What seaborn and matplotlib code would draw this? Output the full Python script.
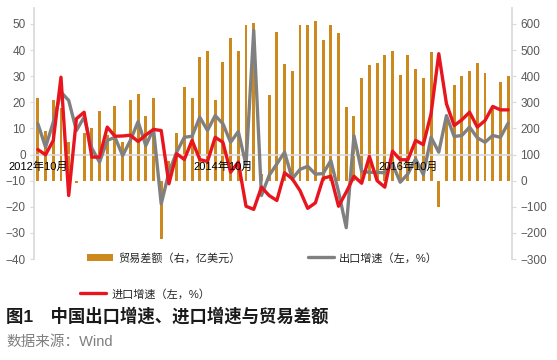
import pandas as pd
import matplotlib
matplotlib.use("Agg")
import matplotlib.pyplot as plt
from matplotlib.patches import Patch
from matplotlib.lines import Line2D
import seaborn as sns

# ==========================================
# Data: monthly, 2012-10 to 2017-11
# ==========================================
months = pd.period_range("2012-10", "2017-11", freq="M")

# 出口增速 (%, left axis)
exports = [11.8, 2.8, 12.4, 23.9, 20.7, 9.2, 14.3, 2.4, -2.9, 5.4, 6.6, -0.4,
           5.4, 12.6, 3.4, 9.8, -18.9, -6.8, 0.9, 6.6, 7.0, 14.3, 9.2, 14.9,
           11.8, 4.7, 8.8, -4.0, 47.5, -15.7, -8.0, -3.6, 0.9, -9.3, -5.7, -4.5,
           -7.5, -7.3, -2.3, -14.2, -28.0, 7.2, -6.5, -6.8, -6.8, -7.0, -3.6, -10.6,
           -7.4, -1.7, -7.7, 6.6, 0.9, 14.9, 6.9, 7.3, 10.5, 6.4, 4.7, 7.3,
           6.6, 12.0]

# 进口增速 (%, left axis)
imports = [1.9, -0.1, 5.4, 29.6, -15.7, 13.7, 16.2, -1.0, -1.0, 10.5, 7.0, 7.1,
           7.4, 5.0, 7.5, 9.6, 9.2, -11.2, 0.3, -1.9, 5.4, -1.9, -2.7, 6.6,
           4.7, -6.8, -2.9, -19.8, -21.0, -12.5, -15.7, -17.6, -7.0, -9.3, -13.8, -20.6,
           -18.5, -9.1, -8.3, -19.8, -14.4, -8.3, -11.0, -0.7, -10.0, -12.5, 1.3, -2.0,
           -2.0, 5.4, 3.8, 15.6, 38.6, 19.4, 11.1, 13.3, 16.2, 10.5, 13.0, 18.4,
           17.1, 17.1]

# 贸易差额 (亿美元, right axis)
balance = [318, 190, 309, 280, 149, -9, 184, 203, 267, 175, 284, 149,
           309, 332, 248, 317, -224, 77, 184, 360, 317, 475, 498, 309,
           455, 548, 498, 594, 605, 26, 328, 571, 447, 418, 597, 597,
           613, 539, 597, 565, 282, 249, 392, 443, 452, 482, 497, 405,
           482, 428, 392, 492, -102, 240, 367, 401, 418, 452, 414, 283,
           379, 401]

tick_pos = [0, 24, 48]
tick_labels = ["2012年10月", "2014年10月", "2016年10月"]

BAR_COLOR = "#CC8A1E"
GRAY = "#808080"
RED = "#E8151F"
SPINE = "#d9d9d9"

df = pd.DataFrame({
    "idx": range(len(months)),
    "exports": exports,
    "imports": imports,
    "balance": balance,
})

sns.set_theme(style="white")
plt.rcParams["font.family"] = ["Liberation Sans", "Noto Sans CJK SC"]

fig = plt.figure(figsize=(5.57, 3.6), dpi=100)
ax = fig.add_axes([34 / 557, 1 - 259 / 360, (512 - 34) / 557, (259 - 8) / 360])
ax2 = ax.twinx()

# bars on the right axis
sns.barplot(data=df, x="idx", y="balance", ax=ax2, color=BAR_COLOR,
            saturation=1, width=0.38, native_scale=True, errorbar=None,
            linewidth=0)

# lines on the left axis
sns.lineplot(data=df, x="idx", y="exports", ax=ax, color=GRAY, lw=2.4)
sns.lineplot(data=df, x="idx", y="imports", ax=ax, color=RED, lw=2.4)

ax.set_zorder(ax2.get_zorder() + 1)
ax.patch.set_visible(False)
# category labels sit on top of the lines
ax.set_axisbelow(False)
ax.xaxis.set_zorder(3)

# right axis = (left + 10) * 10
ax.set_xlim(-0.5, 61.5)
ax.set_ylim(-40, 56.1)
ax2.set_ylim(-300, 661)
ax.set_yticks(range(-40, 51, 10))
ax2.set_yticks(range(-300, 601, 100))

ax.set_xticks(tick_pos)
ax.set_xticklabels(tick_labels)
ax.set_xticks([-0.5, 23.5, 47.5, 61.5], minor=True)
ax.tick_params(axis="x", which="major", length=0, pad=5, labelsize=8, labelcolor="black")
ax.tick_params(axis="x", which="minor", length=3, color=SPINE, width=0.8, direction="out")
ax.tick_params(axis="y", length=3, color=SPINE, width=0.8, pad=3, labelsize=8.5,
               labelcolor="#595959", left=True)
ax2.tick_params(axis="y", length=3, color=SPINE, width=0.8, pad=3, labelsize=8.5,
                labelcolor="#595959", right=True)

for s in ["top", "right"]:
    ax.spines[s].set_visible(False)
ax.spines["bottom"].set_position(("data", 0))
ax.spines["bottom"].set_color(SPINE)
ax.spines["bottom"].set_zorder(1.5)
ax.spines["left"].set_color(SPINE)
for s in ["top", "left", "bottom"]:
    ax2.spines[s].set_visible(False)
ax2.spines["right"].set_color(SPINE)

ax.set_xlabel("")
ax.set_ylabel("")
ax2.set_xlabel("")
ax2.set_ylabel("")

# legend entries placed like the original
leg_kw = dict(loc="center left", frameon=False, fontsize=8, handlelength=2.3,
              handletextpad=0.5, borderpad=0, borderaxespad=0)
fig.legend(handles=[Patch(facecolor=BAR_COLOR, linewidth=0)], labels=["贸易差额（右，亿美元）"],
           bbox_to_anchor=(87 / 557, 1 - 258 / 360), **leg_kw)
fig.legend(handles=[Line2D([], [], color=GRAY, lw=2.4)], labels=["出口增速（左，%）"],
           bbox_to_anchor=(308 / 557, 1 - 258 / 360), **leg_kw)
fig.legend(handles=[Line2D([], [], color=RED, lw=2.4)], labels=["进口增速（左，%）"],
           bbox_to_anchor=(80 / 557, 1 - 294 / 360), **leg_kw)

fig.text(6 / 557, 1 - 316 / 360, "图1　中国出口增速、进口增速与贸易差额",
         fontsize=12.5, fontweight="bold", va="center", color="#1a1a1a")
fig.text(6 / 557, 1 - 342 / 360, "数据来源：Wind", fontsize=10.5,
         va="center", color="#7f7f7f")

fig.savefig("out.png", dpi=100)
